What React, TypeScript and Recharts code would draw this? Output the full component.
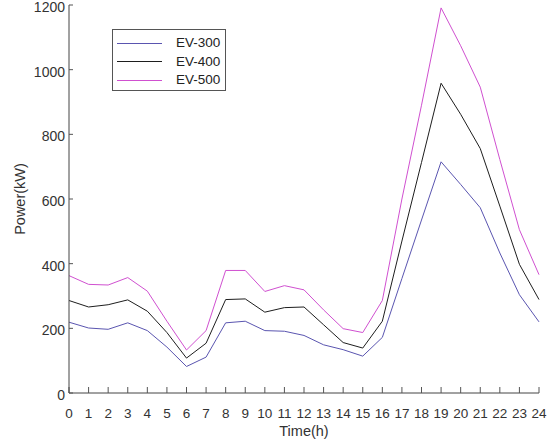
import React from 'react';
import { LineChart, Line, XAxis, YAxis, Label } from 'recharts';

const hours = [0, 1, 2, 3, 4, 5, 6, 7, 8, 9, 10, 11, 12, 13, 14, 15, 16, 17, 18, 19, 20, 21, 22, 23, 24];
const ev300 = [219, 201, 197, 217, 193, 142, 82, 111, 217, 222, 193, 191, 178, 149, 134, 114, 172, 354, 535, 715, 645, 573, 433, 304, 220];
const ev400 = [286, 266, 273, 288, 253, 187, 108, 154, 289, 291, 250, 264, 266, 211, 156, 139, 222, 470, 713, 958, 862, 756, 578, 398, 289];
const ev500 = [363, 336, 334, 357, 315, 222, 133, 193, 379, 379, 314, 332, 319, 257, 199, 187, 286, 600, 890, 1191, 1074, 946, 722, 505, 366];
const yTicks = [0, 200, 400, 600, 800, 1000, 1200];

const seriesInfo = [
  { key: 'ev300', name: 'EV-300', color: '#5a55b0' },
  { key: 'ev400', name: 'EV-400', color: '#1e1e1e' },
  { key: 'ev500', name: 'EV-500', color: '#d050d0' },
];

const data = hours.map((h, i) => ({ h, ev300: ev300[i], ev400: ev400[i], ev500: ev500[i] }));

const FONT = '"Liberation Sans", Arial, sans-serif';

const LegendBox = () => (
  <div
    style={{
      position: 'absolute',
      left: 112,
      top: 29,
      border: '1px solid #555',
      background: '#fff',
      width: 112,
      height: 56,
      boxSizing: 'content-box',
      fontFamily: FONT,
      fontSize: 13.5,
      color: '#222',
      paddingTop: 4,
    }}
  >
    {seriesInfo.map((s) => (
      <div key={s.key} style={{ display: 'flex', alignItems: 'center', height: 18.5 }}>
        <div style={{ marginLeft: 4, width: 45, height: 0, borderTop: `1px solid ${s.color}` }} />
        <span style={{ marginLeft: 14, lineHeight: '18px' }}>{s.name}</span>
      </div>
    ))}
  </div>
);

export default function App() {
  return (
    <div style={{ position: 'absolute', left: 0, top: 0, width: 550, height: 448, background: '#fff' }}>
      <LineChart width={550} height={448} data={data} margin={{ top: 5, right: 11, bottom: 0, left: 0 }}>
        <XAxis
          dataKey="h"
          type="number"
          domain={[0, 24]}
          ticks={hours}
          interval={0}
          tickSize={-6}
          tickMargin={21}
          height={55}
          axisLine={{ stroke: '#444' }}
          tickLine={{ stroke: '#555' }}
          tick={{ fill: '#333', fontSize: 13.5, fontFamily: FONT }}
        >
          <Label value="Time(h)" position="insideBottom" offset={12} style={{ fill: '#333', fontSize: 14.5, fontFamily: FONT }} />
        </XAxis>
        <YAxis
          type="number"
          domain={[0, 1200]}
          ticks={yTicks}
          interval={0}
          width={69}
          tickSize={-4}
          tickMargin={8}
          axisLine={{ stroke: '#444' }}
          tickLine={{ stroke: '#555' }}
          tick={{ fill: '#333', fontSize: 14, fontFamily: FONT, dy: 2 }}
        >
          <Label
            value="Power(kW)"
            angle={-90}
            position="insideLeft"
            offset={20}
            style={{ fill: '#333', fontSize: 14.5, fontFamily: FONT, textAnchor: 'middle' }}
          />
        </YAxis>
        {seriesInfo.map((s) => (
          <Line
            key={s.key}
            dataKey={s.key}
            name={s.name}
            stroke={s.color}
            strokeWidth={1}
            dot={false}
            isAnimationActive={false}
            type="linear"
          />
        ))}
      </LineChart>
      <LegendBox />
    </div>
  );
}
